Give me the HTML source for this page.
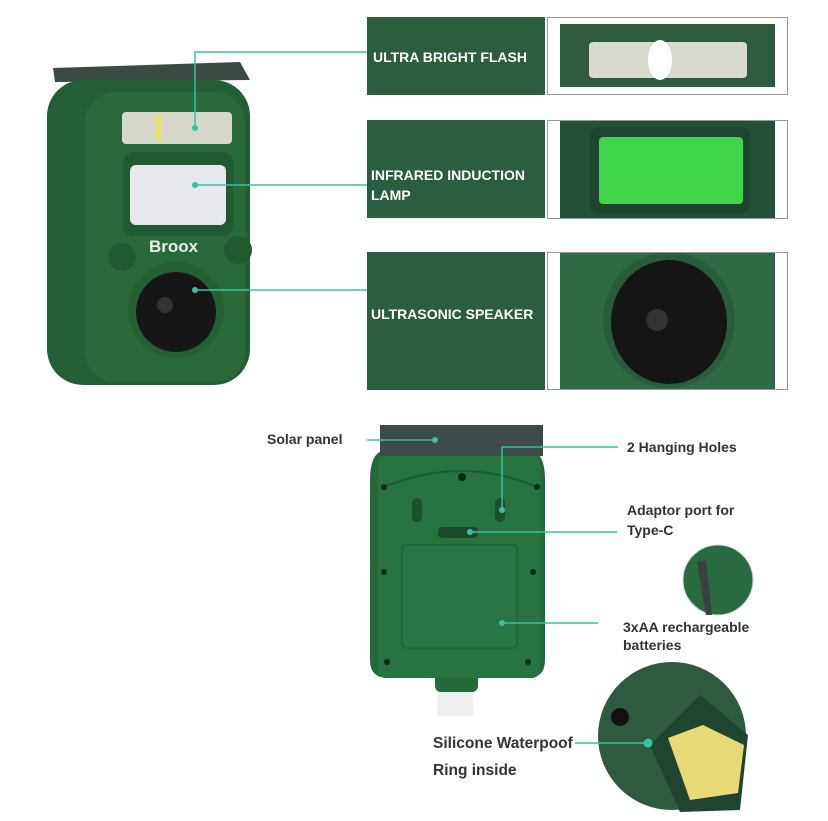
<!DOCTYPE html>
<html><head><meta charset="utf-8"><style>
html,body{margin:0;padding:0;background:#fff;width:828px;height:821px;overflow:hidden}
svg{display:block}
.lbl{font-family:"Liberation Sans",sans-serif;font-weight:bold;fill:#fff;font-size:14px}
.t{font-family:"Liberation Sans",sans-serif;font-weight:bold;fill:#333;font-size:14px}
</style></head><body>
<svg width="828" height="821" viewBox="0 0 828 821">
<defs><clipPath id="c3"><rect x="560" y="253" width="215" height="136"/></clipPath></defs>
<rect x="367" y="17" width="178" height="78" fill="#2b5e40"/>
<rect x="367" y="120" width="178" height="98" fill="#2b5e40"/>
<rect x="367" y="252" width="178" height="138" fill="#2b5e40"/>
<text class="lbl" x="373" y="62">ULTRA BRIGHT FLASH</text>
<text class="lbl" x="371" y="180">INFRARED INDUCTION</text>
<text class="lbl" x="371" y="200">LAMP</text>
<text class="lbl" x="371" y="319">ULTRASONIC SPEAKER</text>
<rect x="547.5" y="17.5" width="240" height="77" fill="#fff" stroke="#999"/>
<rect x="560" y="24" width="215" height="63" fill="#2e5a3e"/>
<rect x="589" y="42" width="158" height="36" rx="4" fill="#d9d9cf"/>
<ellipse cx="660" cy="60" rx="12" ry="20" fill="#fff"/>
<rect x="547.5" y="120.5" width="240" height="98" fill="#fff" stroke="#999"/>
<rect x="560" y="121" width="215" height="97" fill="#245038"/>
<rect x="590" y="127" width="160" height="86" rx="8" fill="#1d4530"/>
<rect x="599" y="137" width="144" height="67" rx="4" fill="#3fd64a"/>
<rect x="547.5" y="252.5" width="240" height="137" fill="#fff" stroke="#999"/>
<rect x="560" y="253" width="215" height="136" fill="#2f6a45"/>
<g clip-path="url(#c3)">
<ellipse cx="669" cy="320" rx="66" ry="68" fill="#285c3c"/>
<ellipse cx="669" cy="322" rx="58" ry="62" fill="#151515"/>
<circle cx="657" cy="320" r="11" fill="#333"/>
</g>
<path d="M53 68 L240 62 L250 80 L55 82 Z" fill="#3c4a44"/>
<rect x="47" y="80" width="203" height="305" rx="36" fill="#245e34"/>
<rect x="85" y="92" width="160" height="290" rx="30" fill="#2a6a3a"/>
<rect x="122" y="112" width="110" height="32" rx="4" fill="#d6d6ca"/>
<rect x="156" y="115" width="6" height="26" fill="#e8e070"/>
<rect x="123" y="152" width="110" height="84" rx="10" fill="#215a30"/>
<rect x="130" y="165" width="96" height="60" rx="6" fill="#e6e8ee"/>
<text x="149" y="252" font-family="Liberation Sans,sans-serif" font-weight="bold" font-size="17" fill="#e8efe8">Broox</text>
<circle cx="122" cy="257" r="14" fill="#225a30"/>
<circle cx="238" cy="250" r="14" fill="#225a30"/>
<circle cx="176" cy="310" r="48" fill="#246034"/>
<circle cx="176" cy="312" r="40" fill="#151515"/>
<circle cx="165" cy="305" r="8" fill="#333"/>
<g stroke="#3bbfa3" stroke-width="1.5" fill="none">
<path d="M195 128 V52 H367"/>
<path d="M195 185 H367"/>
<path d="M195 290 H367"/>
</g>
<g fill="#3bbfa3"><circle cx="195" cy="128" r="3"/><circle cx="195" cy="185" r="3"/><circle cx="195" cy="290" r="3"/></g>
<rect x="437" y="680" width="36" height="36" fill="#eef0f0"/>
<rect x="435" y="672" width="43" height="20" rx="6" fill="#246a3a"/>
<path d="M370 480 Q370 452 385 450 L530 450 Q545 452 545 480 L545 660 Q545 678 528 678 L388 678 Q370 678 370 660 Z" fill="#236a38"/>
<rect x="378" y="455" width="162" height="223" rx="8" fill="#277440"/>
<rect x="380" y="425" width="163" height="31" fill="#3d4a4a"/>
<path d="M384 487 Q462 455 537 487" stroke="#1d5a30" fill="none" stroke-width="2"/>
<rect x="402" y="545" width="115" height="103" rx="4" fill="#2a7544" stroke="#1d5a30"/>
<rect x="438" y="527" width="40" height="11" rx="4" fill="#1d4a2c"/>
<rect x="412" y="498" width="10" height="24" rx="5" fill="#1c4f2c"/>
<rect x="495" y="498" width="10" height="24" rx="5" fill="#1c4f2c"/>
<g fill="#0d2a18"><circle cx="462" cy="477" r="4"/><circle cx="384" cy="487" r="3"/><circle cx="537" cy="487" r="3"/><circle cx="384" cy="572" r="3"/><circle cx="533" cy="572" r="3"/><circle cx="387" cy="662" r="3"/><circle cx="528" cy="662" r="3"/></g>
<circle cx="718" cy="580" r="35" fill="#2a6a40" stroke="#cdd" stroke-width="1"/>
<path d="M697 562 L706 560 L712 615 L706 615 Z" fill="#3a4040"/>
<circle cx="672" cy="736" r="74" fill="#2e5a40"/>
<path d="M650 745 L700 695 L748 735 L740 810 L680 812 Z" fill="#1f4530"/>
<path d="M668 738 L703 725 L744 745 L738 793 L690 800 Z" fill="#e9d977"/>
<circle cx="620" cy="717" r="9" fill="#111"/>
<text class="t" x="267" y="444">Solar panel</text>
<text class="t" x="627" y="452">2 Hanging Holes</text>
<text class="t" x="627" y="515">Adaptor port for</text>
<text class="t" x="627" y="535">Type-C</text>
<text class="t" x="623" y="632">3xAA rechargeable</text>
<text class="t" x="623" y="650">batteries</text>
<text class="t" x="433" y="748" style="font-size:15.5px">Silicone Waterpoof</text>
<text class="t" x="433" y="775" style="font-size:15.5px">Ring inside</text>
<g stroke="#3bbfa3" stroke-width="1.5" fill="none">
<path d="M367 440 H435"/>
<path d="M502 510 V447 H618"/>
<path d="M470 532 H617"/>
<path d="M502 623 H598"/>
<path d="M575 743 H648"/>
</g>
<g fill="#3bbfa3"><circle cx="435" cy="440" r="3"/><circle cx="502" cy="510" r="3"/><circle cx="470" cy="532" r="3"/><circle cx="502" cy="623" r="3"/><circle cx="648" cy="743" r="4.5"/></g>
</svg>
</body></html>
